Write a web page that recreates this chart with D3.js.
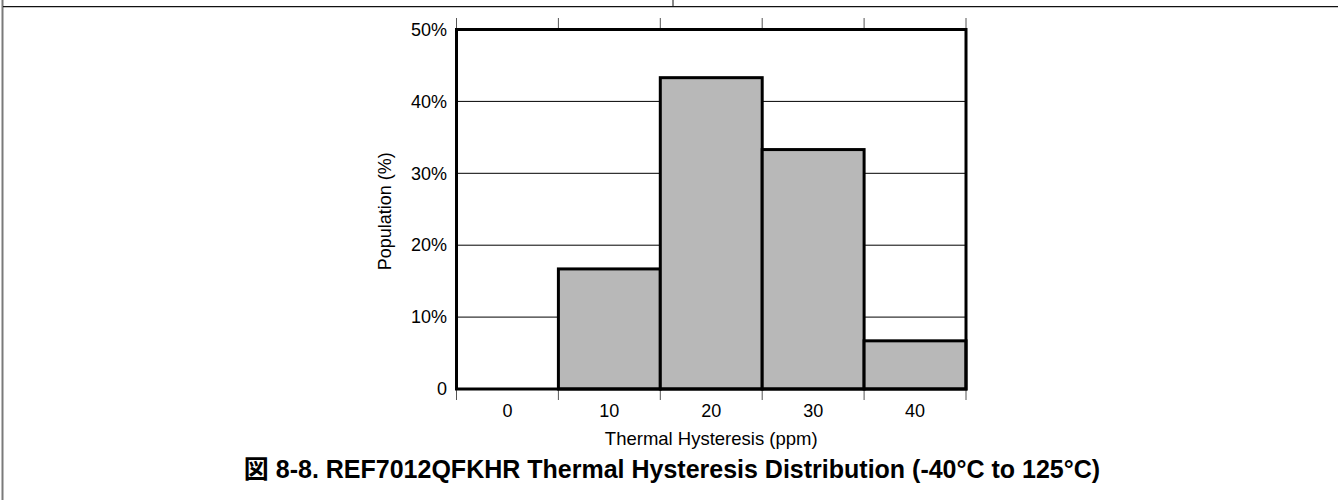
<!DOCTYPE html>
<html>
<head>
<meta charset="utf-8">
<script src="https://cdn.jsdelivr.net/npm/d3@7/dist/d3.min.js"></script>
<style>
  html, body { margin: 0; padding: 0; background: #fff; }
  svg { display: block; }
  text { font-family: "Liberation Sans", Arial, "Noto Sans CJK JP", sans-serif; fill: #000; }
</style>
</head>
<body>
<svg id="chart" width="1338" height="500"></svg>
<script>
// Histogram bins (ppm) and share of units in each bin (%)
const categories = ["0", "10", "20", "30", "40"];
const population = [0, 16.7, 43.3, 33.3, 6.7];
const yTickValues = [0, 10, 20, 30, 40, 50];
const yTickLabels = ["0", "10%", "20%", "30%", "40%", "50%"];
const xTitle = "Thermal Hysteresis (ppm)";
const yTitle = "Population (%)";
const caption = "図 8-8. REF7012QFKHR Thermal Hysteresis Distribution (-40°C to 125°C)";

const svg = d3.select("#chart");
const W = 1338, H = 500;
const plot = { left: 456.5, right: 966, top: 29.5, bottom: 389 };

// page frame lines
svg.append("line").attr("x1", 2.5).attr("x2", 2.5).attr("y1", 0).attr("y2", H)
  .attr("stroke", "#7a7a7a").attr("stroke-width", 2);
svg.append("line").attr("x1", 3).attr("x2", W).attr("y1", 6.7).attr("y2", 6.7)
  .attr("stroke", "#111").attr("stroke-width", 1.3);
svg.append("line").attr("x1", 673).attr("x2", 673).attr("y1", 0).attr("y2", 6)
  .attr("stroke", "#888").attr("stroke-width", 2);

const x = d3.scaleBand().domain(categories).range([plot.left, plot.right]).padding(0);
const y = d3.scaleLinear().domain([0, 50]).range([plot.bottom, plot.top]);

// horizontal gridlines
svg.append("g").selectAll("line")
  .data(yTickValues.filter(v => v > 0 && v < 50))
  .join("line")
  .attr("x1", plot.left).attr("x2", plot.right)
  .attr("y1", d => y(d)).attr("y2", d => y(d))
  .attr("stroke", "#000").attr("stroke-width", 1);

// bin boundary ticks, below the axis and above the frame
const edges = categories.map(c => x(c)).concat([x(categories[categories.length - 1]) + x.bandwidth()]);
svg.append("g").selectAll("line.tb").data(edges).join("line")
  .attr("x1", d => d).attr("x2", d => d)
  .attr("y1", plot.bottom).attr("y2", plot.bottom + 11)
  .attr("stroke", "#555").attr("stroke-width", 1);
svg.append("g").selectAll("line.tt").data(edges).join("line")
  .attr("x1", d => d).attr("x2", d => d)
  .attr("y1", plot.top - 11.5).attr("y2", plot.top)
  .attr("stroke", "#555").attr("stroke-width", 1);

// bars
svg.append("g").selectAll("rect")
  .data(categories.map((c, i) => ({ c, v: population[i] })).filter(d => d.v > 0))
  .join("rect")
  .attr("x", d => x(d.c))
  .attr("y", d => y(d.v))
  .attr("width", x.bandwidth())
  .attr("height", d => y(0) - y(d.v))
  .attr("fill", "#b8b8b8")
  .attr("stroke", "#000")
  .attr("stroke-width", 3);

// plot frame
svg.append("rect")
  .attr("x", plot.left).attr("y", plot.top)
  .attr("width", plot.right - plot.left).attr("height", plot.bottom - plot.top)
  .attr("fill", "none").attr("stroke", "#000").attr("stroke-width", 3);

// y axis labels
const yAxis = d3.axisLeft(y).tickValues(yTickValues)
  .tickFormat((d, i) => yTickLabels[i]).tickSize(0).tickPadding(9.5);
const gy = svg.append("g").attr("transform", `translate(${plot.left},0)`).call(yAxis);
gy.select(".domain").remove();
gy.selectAll("text").attr("font-size", 18).attr("font-family", null);

// x axis labels
const xAxis = d3.axisBottom(x).tickSize(0).tickPadding(15);
const gx = svg.append("g").attr("transform", `translate(0,${plot.bottom})`).call(xAxis);
gx.select(".domain").remove();
gx.selectAll("text").attr("font-size", 18).attr("font-family", null);

// axis titles
svg.append("text").attr("x", (plot.left + plot.right) / 2).attr("y", 445)
  .attr("text-anchor", "middle").attr("font-size", 18.5).text(xTitle);
svg.append("text")
  .attr("transform", `translate(391,${(plot.top + plot.bottom) / 2 + 2}) rotate(-90)`)
  .attr("text-anchor", "middle").attr("font-size", 18).text(yTitle);

// figure caption
svg.append("text").attr("x", 672).attr("y", 478)
  .attr("text-anchor", "middle").attr("font-size", 25).attr("font-weight", "bold")
  .text(caption);
</script>
</body>
</html>
